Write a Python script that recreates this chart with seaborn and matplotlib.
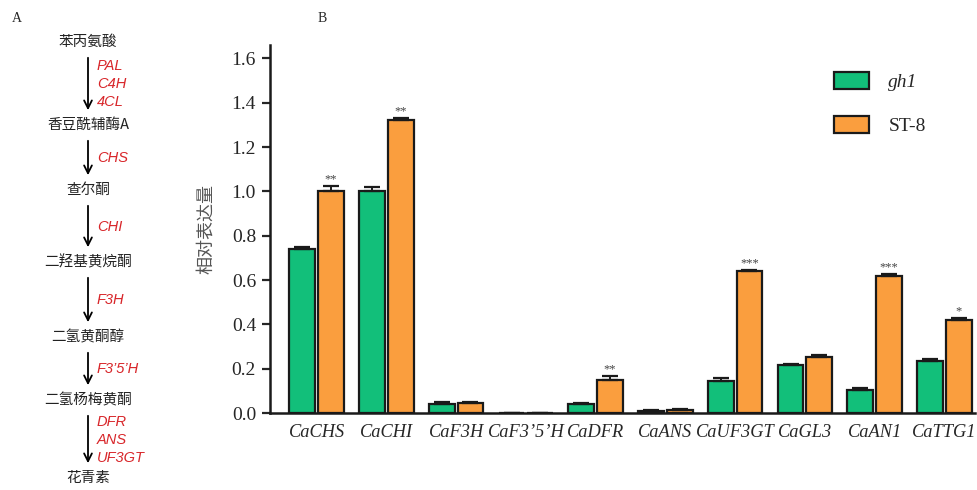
import matplotlib
matplotlib.use("Agg")
import matplotlib.pyplot as plt
import seaborn as sns
import pandas as pd

# Panel B data
genes = ["CaCHS", "CaCHI", "CaF3H", "CaF3\u20195\u2019H", "CaDFR", "CaANS",
         "CaUF3GT", "CaGL3", "CaAN1", "CaTTG1"]
gh1_vals = [0.74, 1.00, 0.04, 0.0, 0.04, 0.008, 0.145, 0.215, 0.105, 0.235]
st8_vals = [1.00, 1.32, 0.045, 0.0, 0.15, 0.015, 0.64, 0.255, 0.62, 0.42]
gh1_err = [0.010, 0.020, 0.008, 0.0, 0.005, 0.004, 0.012, 0.008, 0.006, 0.008]
st8_err = [0.025, 0.010, 0.006, 0.0, 0.015, 0.004, 0.006, 0.008, 0.006, 0.010]
signif = ["**", "**", "", "", "**", "", "***", "", "***", "*"]

# Panel A pathway
compounds = ["苯丙氨酸", "香豆酰辅酶A", "查尔酮", "二羟基黄烷酮", "二氢黄酮醇", "二氢杨梅黄酮", "花青素"]
compound_y = [42, 125, 190, 262, 337, 400, 478]
enzymes = [["PAL", "C4H", "4CL"], ["CHS"], ["CHI"], ["F3H"], ["F3\u20195\u2019H"],
           ["DFR", "ANS", "UF3GT"]]

GREEN = "#12BF7A"
ORANGE = "#FA9E3E"
CJK = ["Noto Sans CJK SC", "DejaVu Sans"]
SERIF = ["Liberation Serif", "DejaVu Serif"]

sns.set_theme(style="white")
plt.rcParams["font.family"] = SERIF

fig = plt.figure(figsize=(9.78, 4.9), dpi=100)

# ---- panel A: pathway drawn in pixel coordinates
axA = fig.add_axes([0, 0, 1, 1])
axA.set_xlim(0, 978)
axA.set_ylim(490, 0)
axA.axis("off")
axA.text(12, 18, "A", fontsize=10, family=SERIF, va="center", ha="left")
axA.text(318, 18, "B", fontsize=10, family=SERIF, va="center", ha="left")
for name, y in zip(compounds, compound_y):
    axA.text(88, y, name, fontsize=10.5, family=CJK, ha="center", va="center", color="#222222")
for i, enz in enumerate(enzymes):
    y0 = compound_y[i] + 13
    y1 = compound_y[i + 1] - 12
    axA.annotate("", xy=(88, y1), xytext=(88, y0),
                 arrowprops=dict(arrowstyle="->", lw=1.3, color="black", mutation_scale=14))
    mid = (y0 + y1) / 2
    n = len(enz)
    for k, e in enumerate(enz):
        axA.text(97, mid + (k - (n - 1) / 2) * 18, e, fontsize=10.5, style="italic",
                 family=["Liberation Sans", "DejaVu Sans"], color="#D8262A", ha="left", va="center")

# ---- panel B: bar chart
df = pd.DataFrame({
    "gene": genes * 2,
    "value": gh1_vals + st8_vals,
    "group": ["gh1"] * len(genes) + ["ST-8"] * len(genes),
})
ax = fig.add_axes([0.276, 0.157, 0.721, 0.751])
sns.barplot(data=df, x="gene", y="value", hue="group", palette=[GREEN, ORANGE],
            saturation=1, width=0.82, gap=0.1, edgecolor="#1a1a1a", linewidth=1.6,
            errorbar=None, ax=ax, zorder=2)

errs = [gh1_err, st8_err]
for cont, err in zip(ax.containers, errs):
    xs = [p.get_x() + p.get_width() / 2 for p in cont.patches]
    hs = [p.get_height() for p in cont.patches]
    ax.errorbar(xs, hs, yerr=[[0] * len(err), err], fmt="none", ecolor="#1a1a1a",
                elinewidth=1.4, capsize=6, capthick=1.6, zorder=3)

st8_patches = ax.containers[1].patches
for p, s, e in zip(st8_patches, signif, st8_err):
    if s:
        ax.text(p.get_x() + p.get_width() / 2, p.get_height() + e + 0.003, s,
                ha="center", va="bottom", fontsize=9, color="#444444")

ax.set_xlim(-0.67, 9.44)
ax.set_ylim(0, 1.66)
ax.set_yticks([0.0, 0.2, 0.4, 0.6, 0.8, 1.0, 1.2, 1.4, 1.6])
ax.set_yticklabels([f"{v:.1f}" for v in ax.get_yticks()], fontsize=14)
ax.set_xticks(range(len(genes)))
ax.set_xticklabels(genes, fontsize=13.2, style="italic")
ax.tick_params(axis="y", direction="out", length=6, width=1.6, left=True, pad=4)
ax.tick_params(axis="x", length=0, pad=8)
for side in ["top", "right"]:
    ax.spines[side].set_visible(False)
for side in ["left", "bottom"]:
    ax.spines[side].set_linewidth(1.8)
    ax.spines[side].set_color("#1a1a1a")
ax.set_xlabel("")
ax.set_ylabel("相对表达量", fontsize=13, family=CJK, color="#555555", labelpad=12)

handles, labels = ax.get_legend_handles_labels()
leg = ax.legend(handles, labels, loc="upper right", bbox_to_anchor=(0.955, 0.975), frameon=False,
                fontsize=14, handlelength=1.8, handleheight=0.95, labelspacing=1.3, handletextpad=1.0)
leg.get_texts()[0].set_style("italic")

fig.savefig("out.png", dpi=100)
